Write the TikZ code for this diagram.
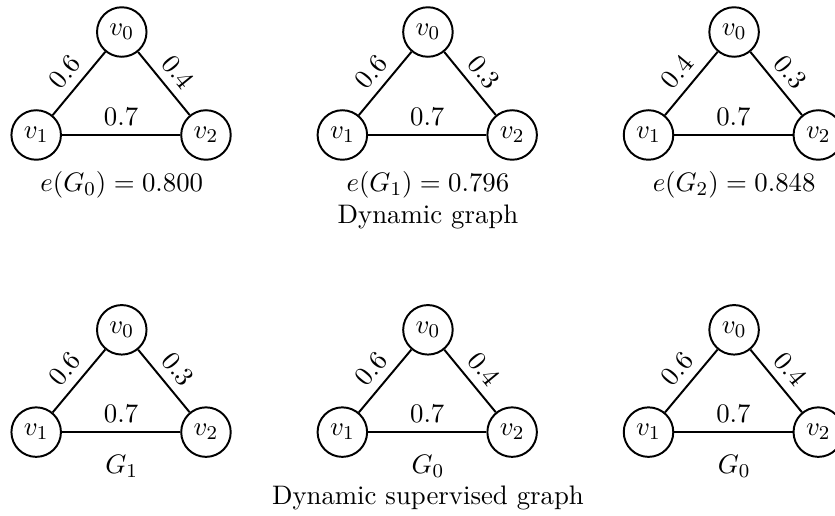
\documentclass[tikz,border=0pt]{standalone}
\usepackage{amsmath,amssymb}
\usepackage{tikz}
\usetikzlibrary{positioning}

\begin{document}
\begin{tikzpicture}[
    font=\fontsize{10.95}{13.6}\selectfont,
    thick,
    vertex/.style={circle, draw, fill=white, inner sep=3pt},
    weight/.style={above, sloped},
    caption/.style={}
]
\useasboundingbox (0,0) rectangle (12.0,-7.414);

% dynamic graph
\node[vertex] (d0v0) at (1.75,-0.46) {$v_0$};
\node[vertex] (d0v1) at (0.52,-1.94) {$v_1$};
\node[vertex] (d0v2) at (2.96,-1.94) {$v_2$};
\node[vertex] (d1v0) at (6.15,-0.46) {$v_0$};
\node[vertex] (d1v1) at (4.92,-1.94) {$v_1$};
\node[vertex] (d1v2) at (7.36,-1.94) {$v_2$};
\node[vertex] (d2v0) at (10.55,-0.46) {$v_0$};
\node[vertex] (d2v1) at (9.32,-1.94) {$v_1$};
\node[vertex] (d2v2) at (11.76,-1.94) {$v_2$};

\draw (d0v1) -- node[weight] {0.6} (d0v0);
\draw (d0v0) -- node[weight] {0.4} (d0v2);
\draw (d0v1) -- node[above] {0.7} (d0v2);
\draw (d1v1) -- node[weight] {0.6} (d1v0);
\draw (d1v0) -- node[weight] {0.3} (d1v2);
\draw (d1v1) -- node[above] {0.7} (d1v2);
\draw (d2v1) -- node[weight] {0.4} (d2v0);
\draw (d2v0) -- node[weight] {0.3} (d2v2);
\draw (d2v1) -- node[above] {0.7} (d2v2);

\node[caption] (e0) at (1.75,-2.66) {$e(G_0) = 0.800$};
\node[caption] (e1) at (6.15,-2.66) {$e(G_1) = 0.796$};
\node[caption] (e2) at (10.55,-2.66) {$e(G_2) = 0.848$};
\node[caption] (dyn) at (6.15,-3.12) {Dynamic graph};

% dynamic supervised graph
\node[vertex] (s0v0) at (1.75,-4.74) {$v_0$};
\node[vertex] (s0v1) at (0.52,-6.21) {$v_1$};
\node[vertex] (s0v2) at (2.96,-6.21) {$v_2$};
\node[vertex] (s1v0) at (6.15,-4.74) {$v_0$};
\node[vertex] (s1v1) at (4.92,-6.21) {$v_1$};
\node[vertex] (s1v2) at (7.36,-6.21) {$v_2$};
\node[vertex] (s2v0) at (10.55,-4.74) {$v_0$};
\node[vertex] (s2v1) at (9.32,-6.21) {$v_1$};
\node[vertex] (s2v2) at (11.76,-6.21) {$v_2$};

\draw (s0v1) -- node[weight] {0.6} (s0v0);
\draw (s0v0) -- node[weight] {0.3} (s0v2);
\draw (s0v1) -- node[above] {0.7} (s0v2);
\draw (s1v1) -- node[weight] {0.6} (s1v0);
\draw (s1v0) -- node[weight] {0.4} (s1v2);
\draw (s1v1) -- node[above] {0.7} (s1v2);
\draw (s2v1) -- node[weight] {0.6} (s2v0);
\draw (s2v0) -- node[weight] {0.4} (s2v2);
\draw (s2v1) -- node[above] {0.7} (s2v2);

\node[caption] (g0) at (1.75,-6.70) {$G_1$};
\node[caption] (g1) at (6.15,-6.70) {$G_0$};
\node[caption] (g2) at (10.55,-6.70) {$G_0$};
\node[caption] (sup) at (6.15,-7.15) {Dynamic supervised graph};
\end{tikzpicture}
\end{document}
